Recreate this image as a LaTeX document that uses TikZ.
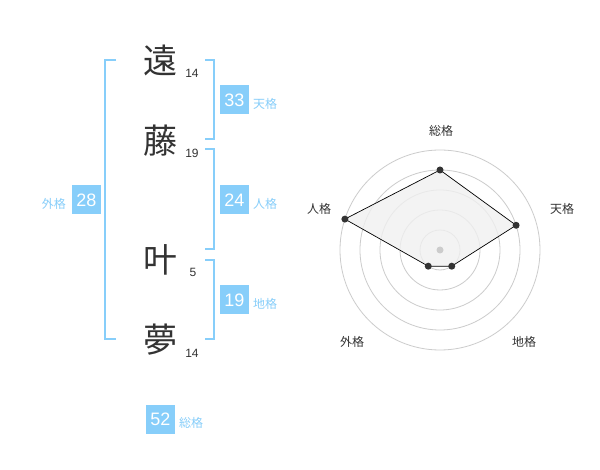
\documentclass[tikz,border=0pt]{standalone}
\usepackage{fontspec}
\setmainfont{Liberation Sans}
\newfontfamily\cjk{Noto Sans CJK JP}
\definecolor{sky}{HTML}{87CEFA}
\definecolor{ink}{HTML}{333333}
\definecolor{ring}{HTML}{CCCCCC}
\definecolor{fillg}{HTML}{F0F0F0}
\begin{document}
\begin{tikzpicture}[x=1pt,y=-1pt,
  kanji/.style={font=\cjk\fontsize{34}{34}\selectfont, text=ink, inner sep=0pt},
  strokes/.style={font=\fontsize{12}{12}\selectfont, text=ink, inner sep=0pt},
  valbox/.style={fill=sky, text=white, minimum width=29pt, minimum height=29pt, inner sep=0pt, font=\fontsize{18}{18}\selectfont},
  vallab/.style={text=sky, font=\cjk\fontsize{12}{12}\selectfont, inner sep=0pt},
  bracket/.style={draw=sky, line width=2pt},
  axislab/.style={text=ink, font=\cjk\fontsize{12}{12}\selectfont, inner sep=0pt},
  dot/.style={circle, fill=ink, inner sep=0pt, minimum size=7pt},
]
\useasboundingbox (0,0) rectangle (600,470);
\fill[white] (0,0) rectangle (600,470);

% kanji
\node[kanji] (k1) at (160,60) {遠};
\node[kanji] (k2) at (160,141) {藤};
\node[kanji] (k3) at (160,260) {叶};
\node[kanji] (k4) at (160,340) {夢};
\node[strokes] (s1) at (192,73) {14};
\node[strokes] (s2) at (192,153) {19};
\node[strokes] (s3) at (193,272) {5};
\node[strokes] (s4) at (192,353) {14};

% brackets
\draw[bracket] (116,60) -- (105,60) -- (105,339) -- (116,339);
\draw[bracket] (205,60) -- (214,60) -- (214,139) -- (205,139);
\draw[bracket] (205,149) -- (214,149) -- (214,249) -- (205,249);
\draw[bracket] (205,260) -- (214,260) -- (214,339) -- (205,339);

% values
\node[valbox] (v1) at (234.5,100) {33};
\node[vallab, anchor=west] (l1) at (253,104) {天格};
\node[valbox] (v2) at (234.5,200) {24};
\node[vallab, anchor=west] (l2) at (253,204) {人格};
\node[valbox] (v3) at (86.5,200) {28};
\node[vallab, anchor=east] (l3) at (66,204) {外格};
\node[valbox] (v4) at (234.5,300) {19};
\node[vallab, anchor=west] (l4) at (253,304) {地格};
\node[valbox] (v5) at (160.5,419.5) {52};
\node[vallab, anchor=west] (l5) at (179,423) {総格};

% radar chart
\coordinate (c) at (440,250);
\foreach \r in {20,40,60,80,100} \draw[ring, line width=0.8pt] (c) circle[radius=\r];
\path (c) ++(0,-80) coordinate (p1);
\path (c) ++(-18:80) coordinate (p2);
\path (c) ++(54:20) coordinate (p3);
\path (c) ++(126:20) coordinate (p4);
\path (c) ++(198:100) coordinate (p5);
\filldraw[fill=fillg, fill opacity=0.8, draw=black, line width=0.7pt] (p1) -- (p2) -- (p3) -- (p4) -- (p5) -- cycle;
\node[circle, fill=ring, inner sep=0pt, minimum size=7pt] (cd) at (c) {};
\foreach \i in {1,...,5} \node[dot] (d\i) at (p\i) {};

\node[axislab] (a1) at (441,131) {総格};
\node[axislab] (a2) at (562,209) {天格};
\node[axislab] (a3) at (524,342) {地格};
\node[axislab] (a4) at (352,342) {外格};
\node[axislab] (a5) at (319,209) {人格};
\end{tikzpicture}
\end{document}
